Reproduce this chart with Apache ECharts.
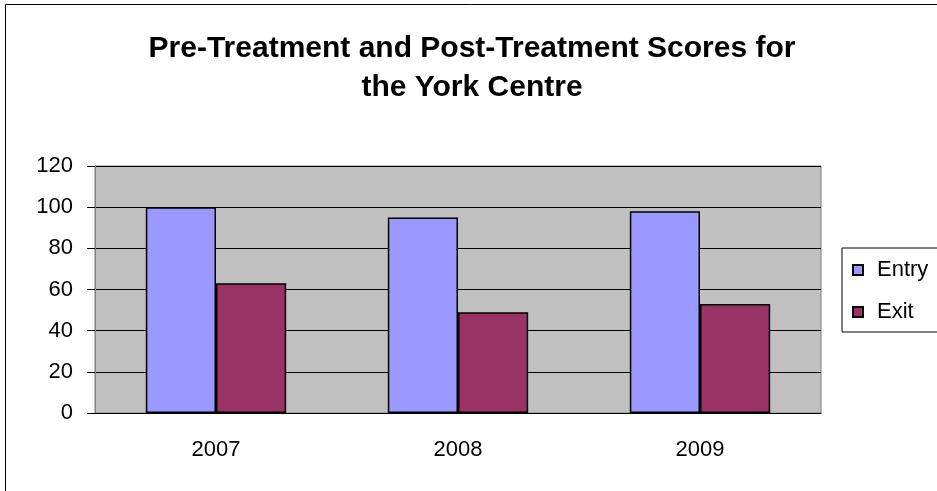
<!DOCTYPE html>
<html>
<head>
<meta charset="utf-8">
<script src="https://cdn.jsdelivr.net/npm/echarts@6/dist/echarts.min.js"></script>
<style>
  html, body { margin: 0; padding: 0; background: #fff; }
  #chart { width: 937px; height: 491px; }
</style>
</head>
<body>
<div id="chart"></div>
<script>
// data
const years = ['2007', '2008', '2009']
const entryScores = [100, 95, 98]
const exitScores = [63, 49, 53]
const yTicks = [0, 20, 40, 60, 80, 100, 120]

const font = 'Liberation Sans, Arial, sans-serif'
const chart = echarts.init(document.getElementById('chart'))

const option = {
    animation: false,
    backgroundColor: '#fff',
    textStyle: { fontFamily: font, color: '#000' },
    title: {
        text: 'Pre-Treatment and Post-Treatment Scores for\nthe York Centre',
        left: 467,
        top: 24,
        textAlign: 'center',
        textStyle: { fontSize: 30, fontWeight: 'bold', lineHeight: 39, fontFamily: font, color: '#000' }
    },
    legend: {
        orient: 'vertical',
        left: 842,
        top: 248,
        padding: [11, 40, 9, 10],
        itemGap: 20,
        itemWidth: 10,
        itemHeight: 10,
        icon: 'rect',
        borderColor: '#000',
        borderWidth: 1,
        backgroundColor: '#fff',
        textStyle: { fontSize: 22, fontFamily: font, color: '#000', padding: [0, 0, 0, 9] },
        data: ['Entry', 'Exit']
    },
    grid: {
        left: 95, top: 166, width: 726, height: 247,
        show: true,
        backgroundColor: '#c0c0c0',
        borderColor: '#808080',
        borderWidth: 1
    },
    xAxis: {
        type: 'category',
        data: years,
        axisLine: { lineStyle: { color: '#000', width: 1 } },
        axisTick: { length: 6, lineStyle: { color: '#000' } },
        axisLabel: { fontSize: 22, color: '#000', fontFamily: font, margin: 26 }
    },
    yAxis: {
        type: 'value',
        min: yTicks[0],
        max: yTicks[yTicks.length - 1],
        interval: 20,
        axisLine: { show: true, lineStyle: { color: '#808080', width: 1 } },
        axisTick: { show: true, length: 8, lineStyle: { color: '#000' } },
        axisLabel: { fontSize: 22, color: '#000', fontFamily: font, margin: 22 },
        splitLine: { lineStyle: { color: '#000', width: 1 } }
    },
    series: [
        {
            name: 'Entry', type: 'bar', data: entryScores,
            barGap: '0%', barCategoryGap: '42%',
            itemStyle: { color: '#9999ff', borderColor: '#000', borderWidth: 1.5 }
        },
        {
            name: 'Exit', type: 'bar', data: exitScores,
            itemStyle: { color: '#993366', borderColor: '#000', borderWidth: 1.5 }
        }
    ],
    graphic: [
        // outer chart frame, runs off the right and bottom edge
        {
            type: 'rect', silent: true, z: -1,
            shape: { x: 5.5, y: 4.5, width: 960, height: 520 },
            style: { fill: 'none', stroke: '#000', lineWidth: 1 }
        }
    ]
}

chart.setOption(option)
</script>
</body>
</html>
